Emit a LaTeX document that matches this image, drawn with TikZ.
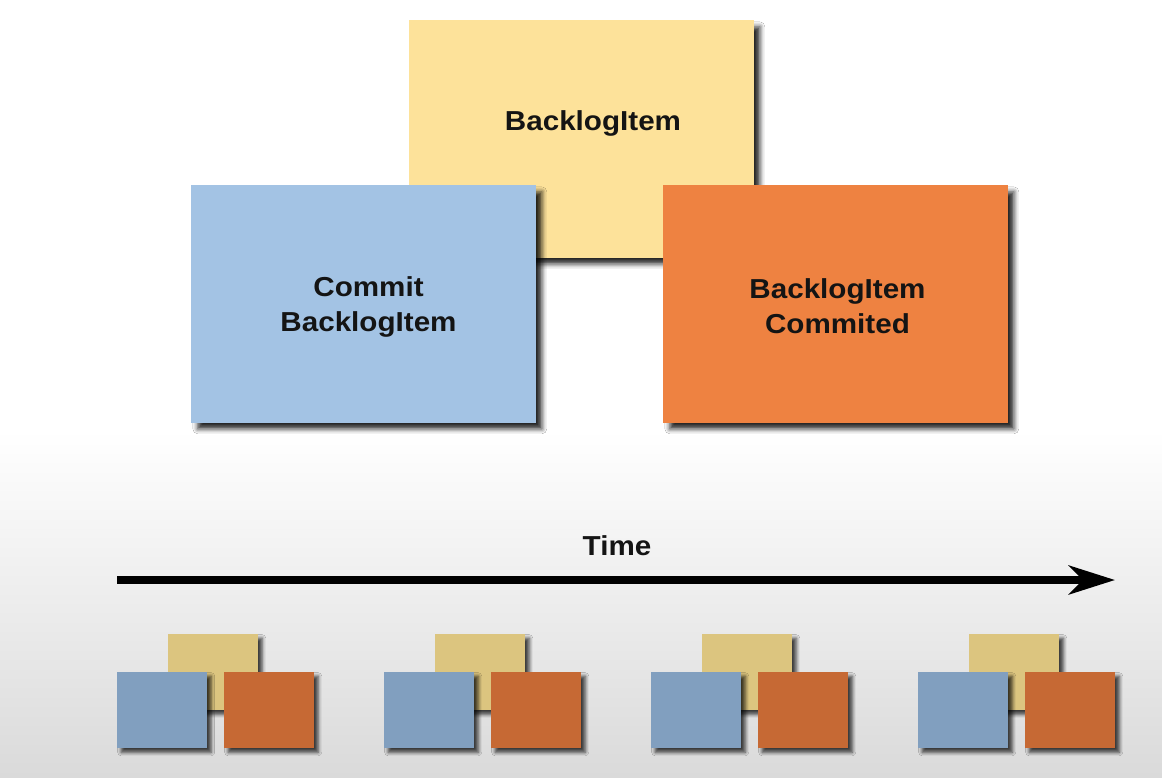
\documentclass[tikz,border=0pt]{standalone}
\usepackage{fontspec}
\setmainfont[FakeStretch=1.08]{Liberation Sans}
\usetikzlibrary{arrows.meta, shadows.blur, calc}

\definecolor{itemylw}{HTML}{FDE29A}
\definecolor{cmdblue}{HTML}{A3C3E4}
\definecolor{evtorange}{HTML}{EE8241}
\definecolor{miniylw}{HTML}{DCC57F}
\definecolor{miniblue}{HTML}{819FBF}
\definecolor{miniorange}{HTML}{C66934}
\definecolor{bggray}{HTML}{DADADA}

\begin{document}
\begin{tikzpicture}[
    x=0.025cm, y=-0.025cm,
    card/.style={rectangle, minimum width=8.6cm, minimum height=5.925cm, inner sep=0pt,
        blur shadow={shadow xshift=4.5pt, shadow yshift=-4.5pt, shadow blur radius=3.5pt, shadow opacity=85}},
    mini/.style={rectangle, minimum width=2.25cm, minimum height=1.9cm, inner sep=0pt,
        blur shadow={shadow xshift=3pt, shadow yshift=-3pt, shadow blur radius=2.5pt, shadow opacity=75}},
    cardtext/.style={font=\bfseries\fontsize{19.5}{25}\selectfont, align=center, text=black!92},
    arrow/.style={line width=0.19cm, -{Stealth[length=1.15cm, width=0.72cm, inset=0.35cm]}}
]

% Background
\useasboundingbox (0,0) rectangle (1162,777);
\fill[white] (0,0) rectangle (1162,777);
\shade[top color=white, bottom color=bggray] (0,430) rectangle (1162,777);

% Aggregate, command and event
\node[card, fill=itemylw] (item) at (581.5,139) {};
\node[cardtext] (itemtext) at ($(item.center)+(11.5,-16)$) {BacklogItem};
\node[card, fill=cmdblue] (cmd) at (363.5,304) {};
\node[cardtext] (cmdtext) at ($(cmd.center)+(5,3)$) {Commit\\BacklogItem};
\node[card, fill=evtorange] (evt) at (835.5,304) {};
\node[cardtext] (evttext) at ($(evt.center)+(2,2)$) {BacklogItem\\Commited};

% Time axis
\coordinate (tstart) at (117,580);
\coordinate (tend) at (1115,580);
\node[cardtext] (time) at (617,546) {Time};
\draw[arrow] (tstart) -- (tend);

% Small copies along the time axis
\foreach \i in {0,...,3} {
  \node[mini, fill=miniylw] (my\i) at ({213+267*\i},672) {};
  \node[mini, fill=miniblue] (mb\i) at ({162+267*\i},710) {};
  \node[mini, fill=miniorange] (mo\i) at ({269+267*\i},710) {};
}

\end{tikzpicture}
\end{document}
